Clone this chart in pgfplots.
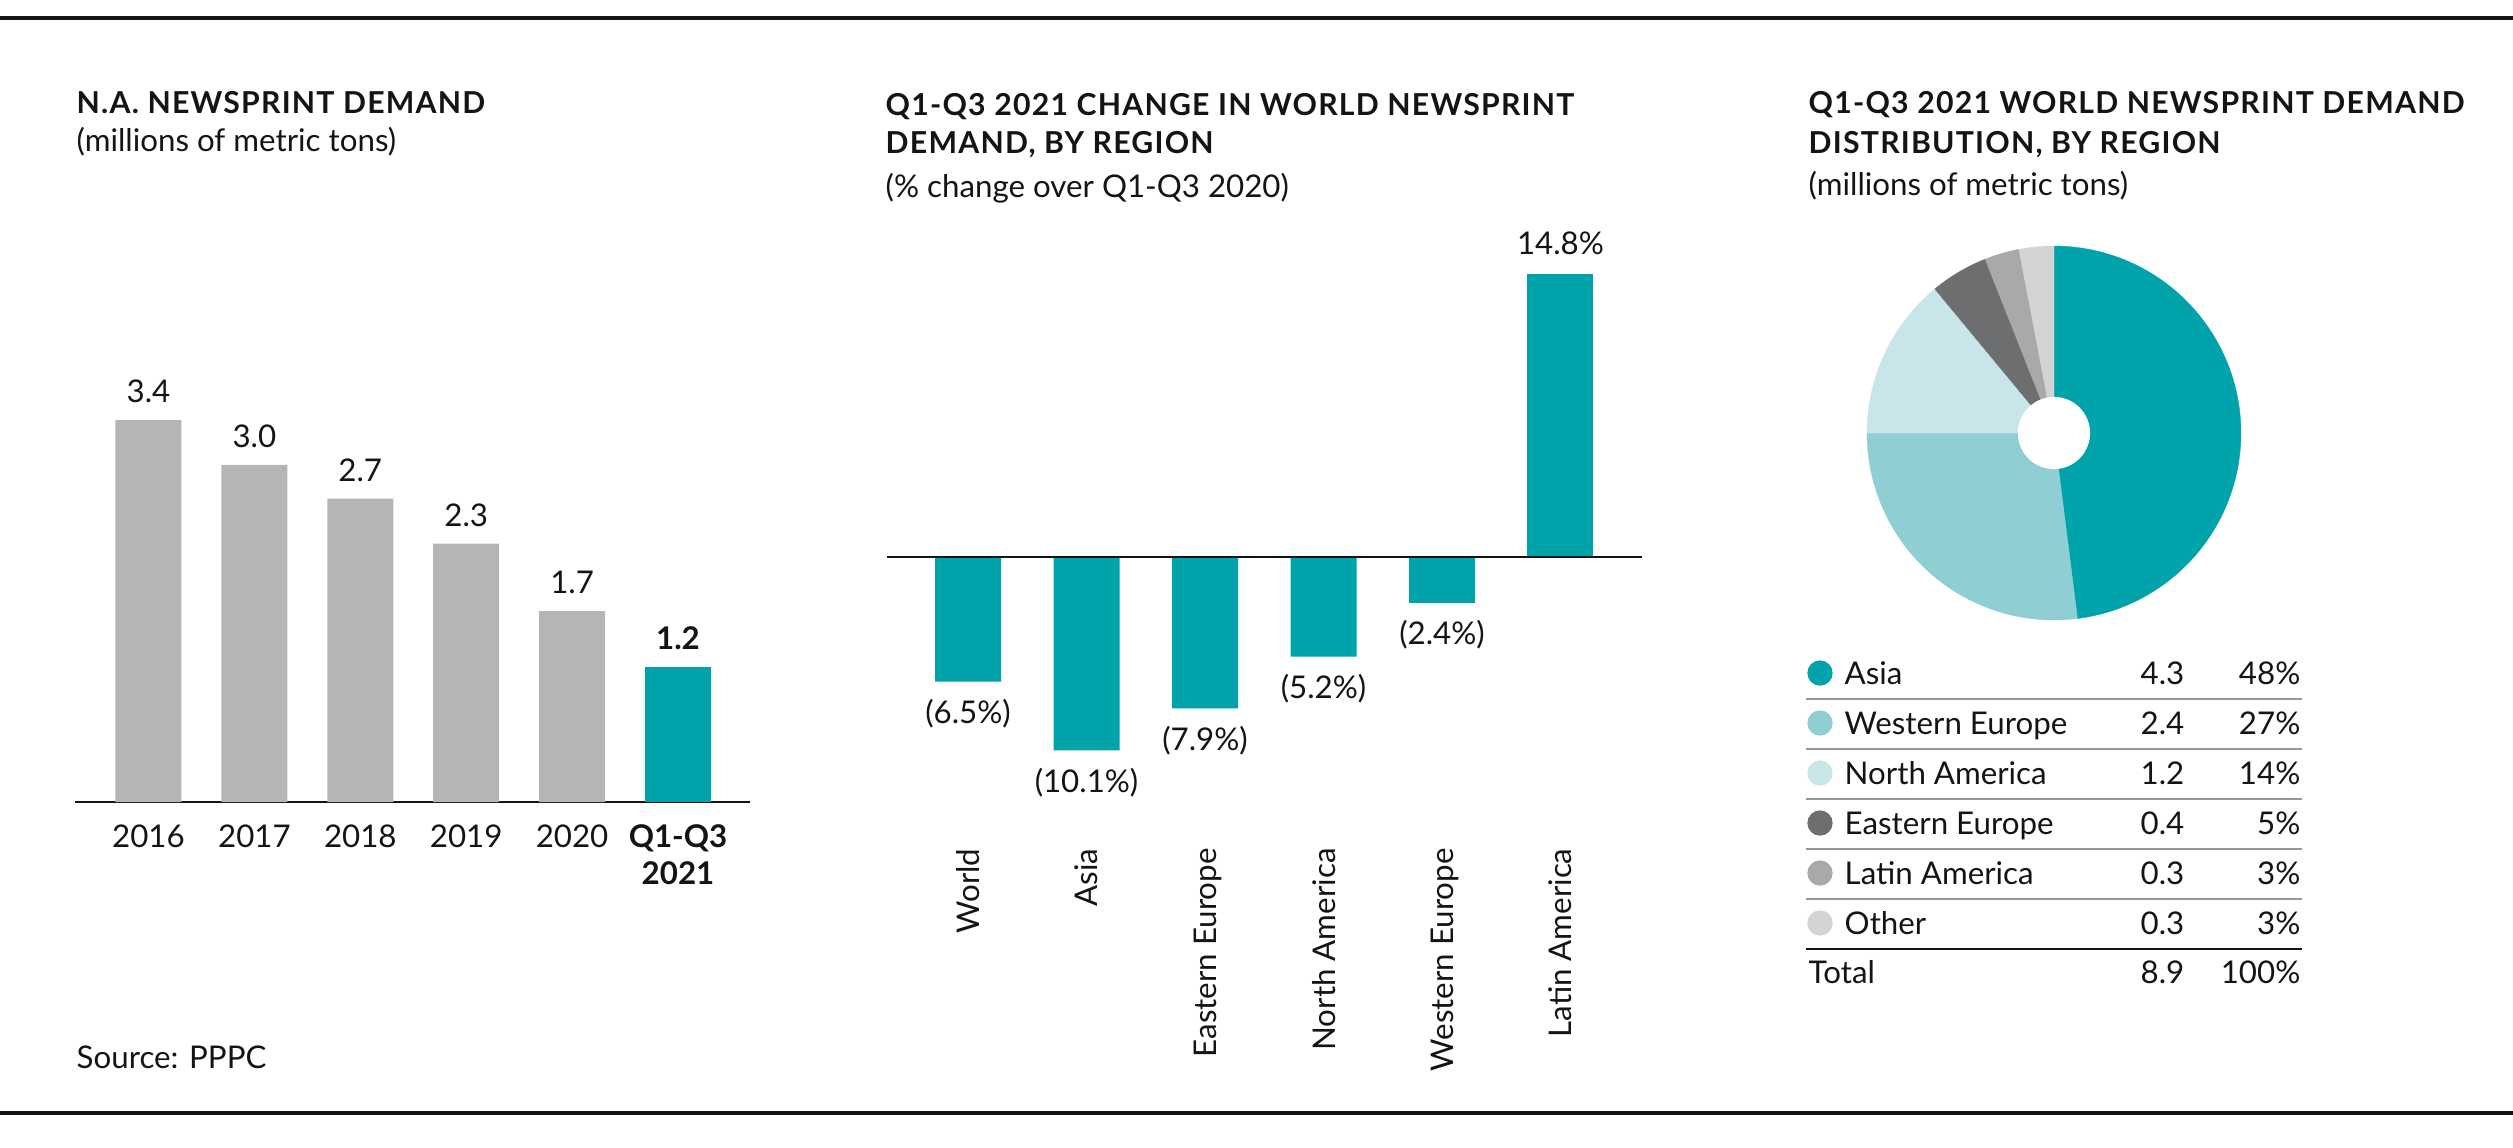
\documentclass[border=0pt]{standalone}
\usepackage{fontspec}
\setmainfont{Lato}
\newfontfamily\titlefamily[LetterSpace=4]{Lato}
\usepackage{pgfplots}
\pgfplotsset{compat=1.18}

% palette
\definecolor{brandteal}{RGB}{0,163,169}
\definecolor{westeu}{RGB}{143,207,212}
\definecolor{northam}{RGB}{200,230,234}
\definecolor{easteu}{RGB}{109,110,111}
\definecolor{latam}{RGB}{168,169,170}
\definecolor{otherc}{RGB}{211,212,213}
\definecolor{bargray}{RGB}{180,181,183}
\definecolor{rulegray}{RGB}{150,150,150}
\definecolor{inkblack}{RGB}{20,20,20}

\newcommand\titlefont{\titlefamily\bfseries\fontsize{8.6}{10}\selectfont}
\newcommand\bodyfont{\fontsize{8.9}{10.5}\selectfont}

\pgfkeys{/pgf/number format/assume math mode=true}

\begin{document}
\begin{tikzpicture}[every node/.style={inner sep=0pt, text=inkblack}]
\begin{scope}[x=0.1mm, y=-0.1mm]
\path[use as bounding box] (0,0) rectangle (2513,1147);

% frame rules
\draw[line width=0.4mm, inkblack] (0,18) -- (2513,18);
\draw[line width=0.4mm, inkblack] (0,1113) -- (2513,1113);

% panel headings
\node[anchor=base west, font=\titlefont] at (76,113) {N.A. NEWSPRINT DEMAND};
\node[anchor=base west, font=\bodyfont] at (76,151) {(millions of metric tons)};
\node[anchor=base west, font=\bodyfont] at (76,1068) {Source: PPPC};

\node[anchor=base west, font=\titlefont] at (885,115) {Q1-Q3 2021 CHANGE IN WORLD NEWSPRINT};
\node[anchor=base west, font=\titlefont] at (885,153) {DEMAND, BY REGION};
\node[anchor=base west, font=\bodyfont] at (885,197) {(\% change over Q1-Q3 2020)};

\node[anchor=base west, font=\titlefont] at (1808,113) {Q1-Q3 2021 WORLD NEWSPRINT DEMAND};
\node[anchor=base west, font=\titlefont] at (1808,153) {DISTRIBUTION, BY REGION};
\node[anchor=base west, font=\bodyfont] at (1808,195) {(millions of metric tons)};

% key table rules and text
\foreach \yy in {699,749,799,849,899}
  \draw[rulegray, line width=0.2mm] (1806,\yy) -- (2302,\yy);
\draw[inkblack, line width=0.2mm] (1806,949) -- (2302,949);

\begin{scope}[every node/.append style={font=\bodyfont}]
\node[anchor=base west] at (1844,684) {Asia};
\node[anchor=base west] at (1844,734) {Western Europe};
\node[anchor=base west] at (1844,784) {North America};
\node[anchor=base west] at (1844,834) {Eastern Europe};
\node[anchor=base west] at (1844,884) {Latin America};
\node[anchor=base west] at (1844,934) {Other};
\node[anchor=base west] at (1808,983) {Total};
\node[anchor=base east] at (2185,684) {4.3};
\node[anchor=base east] at (2185,734) {2.4};
\node[anchor=base east] at (2185,784) {1.2};
\node[anchor=base east] at (2185,834) {0.4};
\node[anchor=base east] at (2185,884) {0.3};
\node[anchor=base east] at (2185,934) {0.3};
\node[anchor=base east] at (2185,983) {8.9};
\node[anchor=base east] at (2301,684) {48\%};
\node[anchor=base east] at (2301,734) {27\%};
\node[anchor=base east] at (2301,784) {14\%};
\node[anchor=base east] at (2301,834) {5\%};
\node[anchor=base east] at (2301,884) {3\%};
\node[anchor=base east] at (2301,934) {3\%};
\node[anchor=base east] at (2301,983) {100\%};
\end{scope}
\end{scope}

% ---------------- panel 1: N.A. newsprint demand ----------------
\begin{axis}[
  at={(7.5mm,-80.2mm)}, anchor=south west,
  scale only axis, width=67.5mm, height=38.2mm,
  xmin=-0.694, xmax=5.68, ymin=0, ymax=3.4,
  ybar, bar width=6.6mm, bar shift=0pt,
  hide y axis, axis x line*=bottom,
  x axis line style={-, line width=0.15mm, inkblack},
  xtick={0,...,5}, major tick length=0pt,
  xticklabels={2016,2017,2018,2019,2020,{\textbf{Q1-Q3}\\\textbf{2021}}},
  xticklabel style={font=\bodyfont, align=center, anchor=north, yshift=-2.2mm, inner sep=0pt},
  nodes near coords={\pgfmathprintnumber[fixed,fixed zerofill,precision=1]{\pgfplotspointmeta}},
  nodes near coords style={font=\bodyfont, anchor=base, yshift=1.75mm, inner sep=0pt},
  clip=false,
]
\addplot[fill=bargray, draw=none] coordinates {(0,3.4) (1,3.0) (2,2.7) (3,2.3) (4,1.7)};
\addplot[fill=brandteal, draw=none, nodes near coords style={font=\bodyfont\bfseries}] coordinates {(5,1.2)};
\end{axis}

% ---------------- panel 2: change by region ----------------
\begin{axis}[
  at={(88.7mm,-78.68mm)}, anchor=south west,
  scale only axis, width=75.5mm, height=51.7mm,
  xmin=-0.684, xmax=5.688, ymin=-12, ymax=15,
  ybar, bar width=6.6mm, bar shift=0pt,
  hide y axis, axis x line*=bottom,
  x axis line style={draw=none},
  xtick={0,...,5}, major tick length=0pt,
  xticklabels={World,Asia,Eastern Europe,North America,Western Europe,Latin America},
  xticklabel style={font=\bodyfont, text depth=0pt, yshift=-6.1mm, rotate=90, anchor=east, inner sep=0pt},
  clip=false,
]
\addplot[fill=brandteal, draw=none,
  nodes near coords={(\pgfmathprintnumber[fixed,fixed zerofill,precision=1]{\pgfplotspointmeta}\%)},
  nodes near coords style={font=\bodyfont, anchor=base, yshift=-4.2mm, inner sep=0pt},
  point meta=explicit]
  coordinates {(0,-6.5) [6.5] (1,-10.1) [10.1] (2,-7.9) [7.9] (3,-5.2) [5.2] (4,-2.4) [2.4]};
\addplot[fill=brandteal, draw=none,
  nodes near coords={\pgfmathprintnumber[fixed,fixed zerofill,precision=1]{\pgfplotspointmeta}\%},
  nodes near coords style={font=\bodyfont, anchor=base, yshift=1.9mm, inner sep=0pt}]
  coordinates {(5,14.8)};
\addplot[sharp plot, inkblack, line width=0.15mm, mark=none] coordinates {(-0.684,0) (5.688,0)};
\end{axis}

% ---------------- panel 3: donut, shares in percent clockwise from 12 o'clock ----------------
\begin{axis}[
  at={(186.7mm,-62.0mm)}, anchor=south west,
  scale only axis, width=37.4mm, height=37.4mm,
  xmin=-1, xmax=1, ymin=-1, ymax=1,
  hide axis, clip=false,
]
\addplot[fill=brandteal, draw=brandteal, line width=0.1pt, domain={90-3.6*48}:{90}, samples=100]
  ({cos(x)},{sin(x)}) -- (axis cs:0,0) -- cycle;
\addplot[fill=westeu, draw=westeu, line width=0.1pt, domain={90-3.6*(48+27)}:{90-3.6*48}, samples=60]
  ({cos(x)},{sin(x)}) -- (axis cs:0,0) -- cycle;
\addplot[fill=northam, draw=northam, line width=0.1pt, domain={90-3.6*(75+14)}:{90-3.6*75}, samples=30]
  ({cos(x)},{sin(x)}) -- (axis cs:0,0) -- cycle;
\addplot[fill=easteu, draw=easteu, line width=0.1pt, domain={90-3.6*(89+5)}:{90-3.6*89}, samples=12]
  ({cos(x)},{sin(x)}) -- (axis cs:0,0) -- cycle;
\addplot[fill=latam, draw=latam, line width=0.1pt, domain={90-3.6*(94+3)}:{90-3.6*94}, samples=8]
  ({cos(x)},{sin(x)}) -- (axis cs:0,0) -- cycle;
\addplot[fill=otherc, draw=otherc, line width=0.1pt, domain={90-3.6*(97+3)}:{90-3.6*97}, samples=8]
  ({cos(x)},{sin(x)}) -- (axis cs:0,0) -- cycle;
\addplot[fill=white, draw=none, domain=0:360, samples=73]
  ({0.193*cos(x)},{0.193*sin(x)}) -- cycle;
\end{axis}

% key swatches
\begin{axis}[
  at={(180.6mm,-100.0mm)}, anchor=south west,
  scale only axis, width=48mm, height=36mm,
  xmin=1806, xmax=2286, ymin=640, ymax=1000, y dir=reverse,
  hide axis, clip=false,
  every axis plot/.append style={only marks, mark=*, mark size=3.4pt},
]
\addplot[brandteal, mark options={fill=brandteal, draw=none}] coordinates {(1820,673)};
\addplot[westeu, mark options={fill=westeu, draw=none}] coordinates {(1820,723)};
\addplot[northam, mark options={fill=northam, draw=none}] coordinates {(1820,773)};
\addplot[easteu, mark options={fill=easteu, draw=none}] coordinates {(1820,823)};
\addplot[latam, mark options={fill=latam, draw=none}] coordinates {(1820,873)};
\addplot[otherc, mark options={fill=otherc, draw=none}] coordinates {(1820,923)};
\end{axis}
\end{tikzpicture}
\end{document}
